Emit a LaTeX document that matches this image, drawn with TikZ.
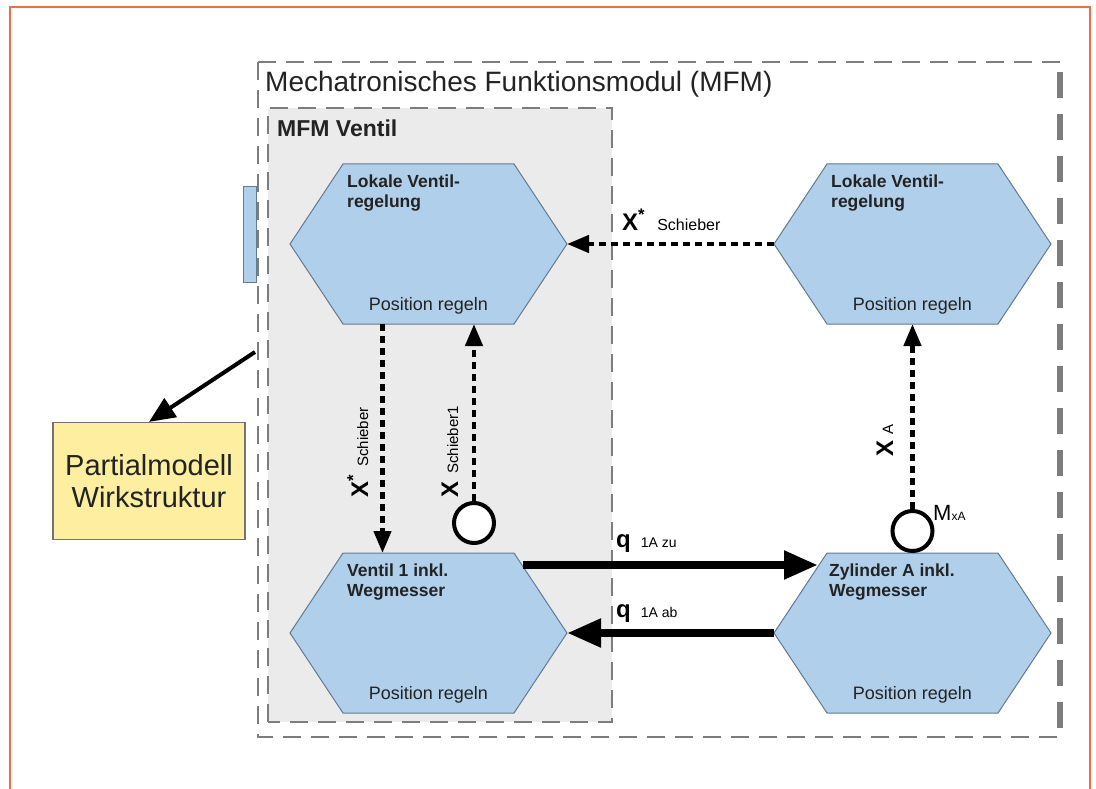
\documentclass[tikz,border=0pt]{standalone}
\usepackage{fontspec}
\setmainfont{Liberation Sans}
\usetikzlibrary{arrows.meta,calc}
\definecolor{hexfill}{RGB}{176,207,234}
\definecolor{hexline}{RGB}{100,122,145}
\definecolor{boxgray}{RGB}{235,235,235}
\definecolor{dashgray}{RGB}{125,125,125}
\definecolor{yell}{RGB}{253,238,160}
\definecolor{frameor}{RGB}{240,110,70}
\definecolor{txt}{RGB}{35,35,35}
\newcommand\fs[2]{\fontsize{#1}{#2}\selectfont}
\tikzset{
  hexbox/.style={minimum width=277pt,minimum height=160pt,inner sep=0pt,outer sep=0pt,draw=none},
  hexdraw/.style={fill=hexfill,draw=hexline,line width=1pt},
  hextitle/.style={anchor=north west,inner sep=0pt,align=left,text=txt,font=\fs{17.5}{20}\bfseries},
  hexsub/.style={anchor=base,inner sep=0pt,text=txt,font=\fs{18}{20}},
  sigline/.style={line width=4.5pt,dash pattern=on 7pt off 5pt,-{Triangle[length=22pt,width=17pt]}},
  flowline/.style={line width=8pt,-{Triangle[length=34pt,width=27pt]}},
  meas/.style={circle,draw=black,fill=white,line width=4pt,minimum size=40pt,inner sep=0pt},
  lab/.style={inner sep=0pt,anchor=base west,text=black},
  boxdash/.style={draw=dashgray,line width=2pt,dash pattern=on 18pt off 10pt},
  yellowbox/.style={draw=black!55,fill=yell,line width=1.2pt,minimum width=192pt,minimum height=117pt,align=center,text=txt,font=\fs{29}{32}},
}
\newcommand\hexfig[3]{%
  \node[hexbox] (#1) at (#2,#3) {};
  \draw[hexdraw] (#1.west) -- ($(#1.north west)+(53,0)$) -- ($(#1.north east)+(-53,0)$) -- (#1.east) -- ($(#1.south east)+(-53,0)$) -- ($(#1.south west)+(53,0)$) -- cycle;
}
\begin{document}
\begin{tikzpicture}[x=1pt,y=-1pt]
\useasboundingbox (0,0) rectangle (1096,789);
% outer frame
\draw[frameor,line width=2pt] (10,795) -- (10,7) -- (1090,7) -- (1090,795);
% inner gray module
\fill[boxgray] (268,108) rectangle (612,722);
% small blue rect
\draw[hexdraw] (243,187) rectangle (256,282);
% outer dashed module
\draw[boxdash] (258,62) -- (1060,62);
\draw[boxdash] (258,62) -- (258,737) -- (1060,737);
\draw[draw=dashgray,line width=6pt,dash pattern=on 26pt off 16pt] (1060,72) -- (1060,737);
% inner dashed
\draw[boxdash] (268,722) -- (268,108) -- (612,108) -- (612,722) -- cycle;
% titles
\node[lab,text=txt,font=\fs{28}{32}] (t1) at (265,92) {Mechatronisches Funktionsmodul (MFM)};
\node[lab,text=txt,font=\fs{23}{28}\bfseries] (t2) at (277,137) {MFM Ventil};
% hexagons
\hexfig{H1}{428.5}{244}
\hexfig{H2}{912.5}{244}
\hexfig{H3}{428.5}{633}
\hexfig{H4}{912.5}{633}
\node[hextitle] (H1t) at ($(H1.north west)+(57,11)$) {Lokale Ventil-\\regelung};
\node[hexsub] (H1s) at ($(H1.south)+(0,-14)$) {Position regeln};
\node[hextitle] (H2t) at ($(H2.north west)+(57,11)$) {Lokale Ventil-\\regelung};
\node[hexsub] (H2s) at ($(H2.south)+(0,-14)$) {Position regeln};
\node[hextitle] (H3t) at ($(H3.north west)+(57,11)$) {Ventil 1 inkl.\\Wegmesser};
\node[hexsub] (H3s) at ($(H3.south)+(0,-14)$) {Position regeln};
\node[hextitle] (H4t) at ($(H4.north west)+(55,11)$) {Zylinder A inkl.\\Wegmesser};
\node[hexsub] (H4s) at ($(H4.south)+(0,-14)$) {Position regeln};
% measurement circles
\node[meas] (C1) at (474,523) {};
\node[meas] (C2) at (912.5,531) {};
% signal arrows
\draw[sigline] (H2.west) -- (H1.east);
\draw[sigline] ($(H1.south)+(-46,0)$) -- ($(H3.north)+(-46,0)$);
\draw[sigline] (C1.north) -- ($(H1.south)+(45.5,0)$);
\draw[sigline] (C2.north) -- (H2.south);
% flow arrows
\draw[flowline] ($(H3.east)+(-44,-68)$) -- ($(H4.west)+(44,-68)$);
\draw[flowline] (H4.west) -- (H3.east);
% labels
\node[lab] (L1) at (622,230) {\fs{24}{24}\bfseries X\textsuperscript{*}\hspace{12pt}\fs{16}{16}\mdseries Schieber};
\node[lab,rotate=90] (L2) at (368,498) {\fs{24}{24}\bfseries X\textsuperscript{*}\hspace{8pt}\fs{15}{15}\mdseries Schieber};
\node[lab,rotate=90] (L3) at (458,498) {\fs{24}{24}\bfseries X\hspace{8pt}\fs{15}{15}\mdseries Schieber1};
\node[lab,rotate=90] (L4) at (893,457) {\fs{24}{24}\bfseries X\hspace{6pt}\fs{15}{15}\mdseries A};
\node[lab] (L5) at (933,520) {\fs{22}{22}M\fs{12}{12}xA};
\node[lab] (L6) at (616,547) {\fs{24}{24}\bfseries q\hspace{10pt}\fs{14}{14}\mdseries 1A zu};
\node[lab] (L7) at (616,617) {\fs{24}{24}\bfseries q\hspace{10pt}\fs{14}{14}\mdseries 1A ab};
% partial model
\node[yellowbox] (P) at (149,481) {Partialmodell\\Wirkstruktur};
\coordinate (src) at (255,352);
\draw[line width=4pt,-{Triangle[length=26pt,width=22pt]}] (src) -- (P.north);
\end{tikzpicture}
\end{document}
